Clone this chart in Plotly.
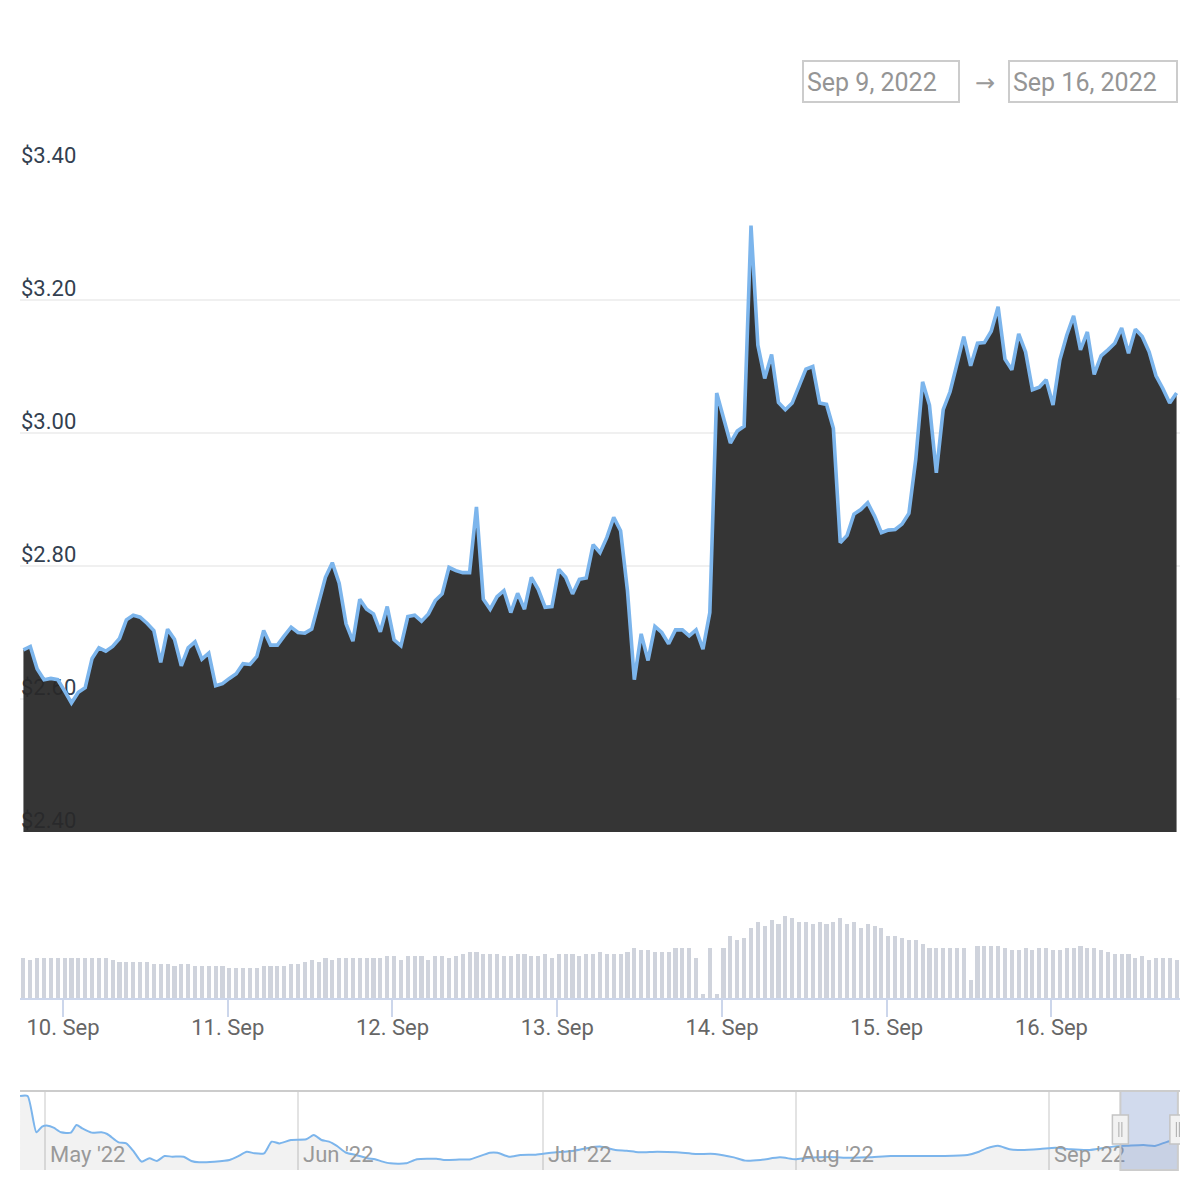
import pandas as pd
import plotly.graph_objects as go

# ---------------- data ----------------
first_time = "2022-09-09 18:14"

price = [
    2.674, 2.679, 2.645, 2.629, 2.631, 2.629, 2.612, 2.594, 2.610, 2.617,
    2.661, 2.677, 2.672, 2.679, 2.691, 2.719, 2.726, 2.723, 2.714, 2.703,
    2.655, 2.705, 2.690, 2.650, 2.677, 2.686, 2.660, 2.669, 2.620, 2.623,
    2.631, 2.638, 2.653, 2.652, 2.664, 2.703, 2.681, 2.681, 2.695, 2.708,
    2.700, 2.699, 2.705, 2.745, 2.783, 2.805, 2.774, 2.713, 2.687, 2.750,
    2.735, 2.728, 2.701, 2.739, 2.689, 2.680, 2.724, 2.726, 2.717, 2.728,
    2.748, 2.758, 2.798, 2.793, 2.790, 2.790, 2.889, 2.750, 2.735, 2.754,
    2.763, 2.730, 2.759, 2.735, 2.783, 2.765, 2.738, 2.739, 2.795, 2.783,
    2.758, 2.780, 2.782, 2.832, 2.820, 2.843, 2.873, 2.853, 2.763, 2.629,
    2.698, 2.658, 2.709, 2.700, 2.683, 2.704, 2.704, 2.695, 2.704, 2.675,
    2.730, 3.060, 3.022, 2.985, 3.003, 3.010, 3.312, 3.132, 3.082, 3.118,
    3.046, 3.035, 3.045, 3.070, 3.096, 3.100, 3.045, 3.043, 3.007, 2.835,
    2.846, 2.878, 2.885, 2.895, 2.875, 2.850, 2.854, 2.855, 2.863, 2.879,
    2.960, 3.077, 3.042, 2.940, 3.035, 3.062, 3.102, 3.145, 3.101, 3.135,
    3.136, 3.153, 3.190, 3.111, 3.095, 3.149, 3.122, 3.065, 3.069, 3.080,
    3.042, 3.110, 3.147, 3.176, 3.125, 3.152, 3.088, 3.116, 3.125, 3.135,
    3.158, 3.120, 3.156, 3.145, 3.122, 3.086, 3.067, 3.045, 3.060,
]

volume = [
    121, 115, 121, 121, 121, 121, 121, 121, 121, 121,
    121, 121, 121, 115, 109, 109, 109, 109, 109, 103,
    103, 103, 97, 103, 103, 97, 97, 97, 97, 97,
    91, 91, 91, 91, 91, 97, 97, 97, 97, 103,
    103, 109, 115, 109, 121, 115, 121, 121, 121, 121,
    121, 121, 121, 127, 127, 115, 127, 127, 127, 115,
    127, 127, 121, 127, 133, 139, 139, 133, 133, 133,
    127, 127, 133, 133, 127, 127, 133, 121, 133, 133,
    133, 127, 133, 133, 139, 133, 133, 133, 139, 151,
    145, 145, 139, 139, 139, 151, 151, 151, 121, 13,
    151, 13, 151, 187, 175, 181, 211, 229, 217, 235,
    223, 247, 241, 229, 229, 223, 229, 223, 229, 241,
    223, 229, 211, 223, 217, 211, 187, 187, 181, 175,
    175, 163, 151, 151, 151, 151, 151, 151, 55, 157,
    157, 157, 157, 151, 145, 145, 151, 145, 151, 151,
    145, 145, 151, 151, 157, 151, 151, 145, 139, 133,
    133, 133, 121, 127, 115, 121, 121, 121, 115,
]

# navigator series: days after 2022-05-01 and price
nav_origin = "2022-05-01"
nav_day_offsets = [
    -3.06, -2.13, -1.05, -0.36, 0.34, 1.05, 1.98, 3.16, 3.86, 4.57,
    5.73, 6.91, 7.62, 9.02, 9.96, 10.89, 11.83, 12.78, 13.71, 14.65,
    15.58, 16.99, 17.93, 18.87, 20.74, 22.61, 23.56, 24.72, 25.66, 26.84,
    27.77, 28.71, 30.12, 32.00, 32.93, 33.87, 34.80, 35.75, 36.91, 38.09,
    39.50, 40.43, 41.37, 42.31, 44.19, 45.58, 47.94, 48.87, 50.74, 52.15,
    54.50, 55.43, 56.84, 58.25, 60.12, 62.00, 64.80, 66.69, 67.99, 69.86,
    71.27, 72.68, 75.02, 77.36, 79.71, 82.05, 84.39, 85.80, 87.68, 90.03,
    91.90, 93.31, 96.12, 98.47, 100.81, 103.63, 106.43, 110.18, 113.00, 114.41,
    115.34, 116.75, 118.16, 119.57, 121.91, 123.78, 125.66, 128.00, 129.40, 130.81,
    132.68, 134.56, 135.97, 136.91, 137.84, 138.76,
]
nav_price = [
    5.70, 5.70, 3.57, 3.90, 3.96, 3.84, 3.57, 3.55, 4.00, 3.80,
    3.55, 3.57, 3.47, 2.98, 2.92, 2.43, 1.85, 2.05, 1.89, 2.18,
    2.14, 2.14, 1.89, 1.81, 1.85, 1.95, 2.14, 2.43, 2.34, 2.34,
    3.02, 2.92, 3.12, 3.16, 3.41, 3.12, 3.02, 2.77, 2.37, 2.24,
    2.05, 1.99, 1.85, 1.75, 1.75, 1.99, 2.02, 1.95, 1.97, 1.99,
    2.37, 2.37, 2.14, 2.24, 2.26, 2.37, 2.49, 2.67, 2.73, 2.53,
    2.49, 2.40, 2.43, 2.40, 2.30, 2.30, 2.10, 1.91, 1.95, 2.10,
    1.99, 2.06, 2.12, 2.08, 2.10, 2.18, 2.18, 2.18, 2.24, 2.43,
    2.63, 2.78, 2.57, 2.53, 2.59, 2.67, 2.57, 2.53, 2.63, 2.73,
    2.78, 2.82, 2.77, 2.92, 3.06, 3.06,
]

price_ticks = [2.40, 2.60, 2.80, 3.00, 3.20, 3.40]
price_tick_labels = ["$2.40", "$2.60", "$2.80", "$3.00", "$3.20", "$3.40"]
date_from_label = "Sep 9, 2022"
date_to_label = "Sep 16, 2022"

# ---------------- derived ----------------
times = pd.date_range(first_time, periods=len(price), freq="h")
half = pd.Timedelta(minutes=30)
main_x0 = times[0] - half
main_x1 = times[-1] + half
nav_times = pd.Timestamp(nav_origin) + pd.to_timedelta(nav_day_offsets, unit="D")
nav_x0 = pd.Timestamp("2022-04-27 22:30")
nav_x1 = pd.Timestamp("2022-09-17 01:00")

W = H = 1200


def px(x):
    return x / W


def py(y):
    return 1 - y / H


FONT = "Roboto, 'Open Sans', sans-serif"

fig = go.Figure()

# price area
fig.add_trace(go.Scatter(
    x=times, y=price, xaxis="x", yaxis="y", mode="lines",
    line=dict(color="#7cb5ec", width=3.6),
    fill="tozeroy", fillcolor="rgba(40,40,40,0.94)",
    hoverinfo="skip", showlegend=False,
))

# volume
fig.add_trace(go.Bar(
    x=times, y=volume, xaxis="x", yaxis="y2",
    width=0.6 * 3600 * 1000,
    marker=dict(color="#cfd3dc", line=dict(width=0)),
    hoverinfo="skip", showlegend=False,
))

# navigator series
fig.add_trace(go.Scatter(
    x=nav_times, y=nav_price, xaxis="x2", yaxis="y3", mode="lines",
    line=dict(color="#7cb5ec", width=2, shape="spline", smoothing=0.6),
    fill="tozeroy", fillcolor="rgba(0,0,0,0.05)",
    hoverinfo="skip", showlegend=False,
))

shapes = []
annotations = []

# date input boxes
for (x0, x1) in [(803, 959), (1009, 1177)]:
    shapes.append(dict(type="rect", xref="paper", yref="paper",
                       x0=px(x0), x1=px(x1), y0=py(102), y1=py(61),
                       line=dict(color="#cccccc", width=2), fillcolor="rgba(0,0,0,0)"))
annotations.append(dict(xref="paper", yref="paper", x=px(805), y=py(82),
                        xanchor="left", yanchor="middle", showarrow=False,
                        text=date_from_label, font=dict(family=FONT, size=25, color="#959595")))
annotations.append(dict(xref="paper", yref="paper", x=px(1011), y=py(82),
                        xanchor="left", yanchor="middle", showarrow=False,
                        text=date_to_label, font=dict(family=FONT, size=25, color="#959595")))
annotations.append(dict(xref="paper", yref="paper", x=px(985), y=py(83),
                        xanchor="center", yanchor="middle", showarrow=False,
                        text="\u2192", font=dict(family="DejaVu Sans", size=24, color="#999999")))

# navigator mask and outline
nav_top, nav_bot = 1091, 1170
shapes.append(dict(type="rect", xref="x2", yref="paper",
                   x0=main_x0, x1=main_x1, y0=py(nav_bot), y1=py(nav_top),
                   fillcolor="rgba(102,133,194,0.3)", line=dict(width=0), layer="above"))
shapes.append(dict(type="line", xref="paper", yref="paper",
                   x0=px(20), x1=px(1180), y0=py(nav_top), y1=py(nav_top),
                   line=dict(color="#cccccc", width=2), layer="above"))
shapes.append(dict(type="rect", xref="x2", yref="paper",
                   x0=main_x0, x1=main_x1, y0=py(nav_bot), y1=py(nav_top),
                   fillcolor="rgba(0,0,0,0)", line=dict(color="#cccccc", width=2), layer="above"))

# handles
for xa in [main_x0, main_x1]:
    shapes.append(dict(type="rect", xref="x2", yref="paper", xsizemode="pixel", xanchor=xa,
                       x0=-8, x1=8, y0=py(1144), y1=py(1115),
                       fillcolor="#f2f2f2", line=dict(color="#c4c4c4", width=1.5), layer="above"))
    for off in (-1.5, 1.5):
        shapes.append(dict(type="line", xref="x2", yref="paper", xsizemode="pixel", xanchor=xa,
                           x0=off, x1=off, y0=py(1137), y1=py(1122),
                           line=dict(color="#aaaaaa", width=1), layer="above"))

fig.update_layout(
    width=W, height=H, autosize=False,
    margin=dict(l=0, r=0, t=0, b=0, pad=0, autoexpand=False),
    paper_bgcolor="white", plot_bgcolor="rgba(0,0,0,0)",
    font=dict(family=FONT),
    showlegend=False,
    bargap=0,
    xaxis=dict(
        domain=[px(20), px(1180)], range=[main_x0, main_x1], anchor="y2",
        type="date", showgrid=False, zeroline=False, automargin=False,
        showline=True, linecolor="#ccd6eb", linewidth=2,
        ticks="outside", ticklen=17, tickwidth=2, tickcolor="#ccd6eb",
        dtick=86400000, tick0="2022-09-10", tickformat="%-d. %b",
        ticklabelstandoff=-8,
        tickfont=dict(family=FONT, size=22, color="#666666"),
        fixedrange=True,
    ),
    yaxis=dict(
        domain=[py(832), py(167)], range=[2.4, 3.4], anchor="x", automargin=False,
        tickmode="array", tickvals=price_ticks, ticktext=price_tick_labels,
        ticklabelposition="inside top", ticklabeloverflow="allow",
        ticklabelshift=4, ticklabelstandoff=-2,
        tickfont=dict(family=FONT, size=22, color="#333f50"),
        showgrid=True, gridcolor="#f0f0f0", gridwidth=2,
        zeroline=False, showline=False, ticks="",
        layer="below traces", fixedrange=True,
    ),
    yaxis2=dict(
        domain=[py(998), py(898)], range=[0, 300], anchor="x",
        visible=False, fixedrange=True, automargin=False,
    ),
    xaxis2=dict(
        domain=[px(20), px(1180)], range=[nav_x0, nav_x1], anchor="y3",
        type="date", showgrid=True, gridcolor="#e3e3e3", gridwidth=1.5,
        zeroline=False, showline=False, ticks="", automargin=False,
        dtick="M1", tick0="2022-05-01", tickformat="%b '%y",
        ticklabelposition="inside right", ticklabeloverflow="allow",
        ticklabelshift=5, ticklabelstandoff=-2,
        tickfont=dict(family=FONT, size=22, color="#999999"),
        fixedrange=True,
    ),
    yaxis3=dict(
        domain=[py(nav_bot), py(nav_top)], range=[1.36, 5.99], anchor="x2",
        visible=False, fixedrange=True, automargin=False,
    ),
    shapes=shapes,
    annotations=annotations,
)

fig.write_html("out.html", config={"displayModeBar": False},
               post_script="document.body.style.margin='0';")
